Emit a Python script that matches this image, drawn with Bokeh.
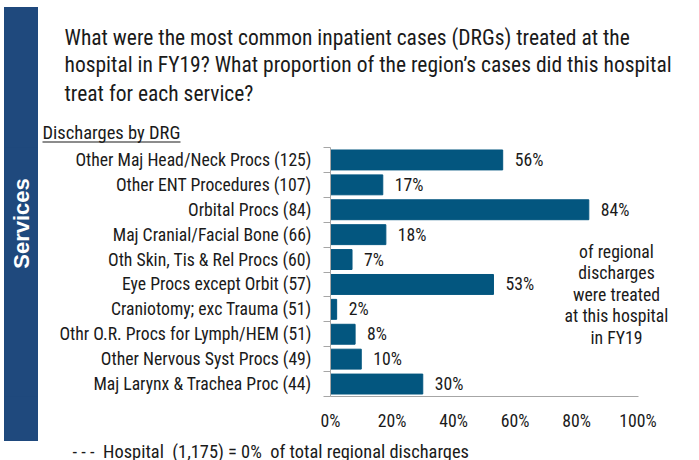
from bokeh.plotting import figure
from bokeh.layouts import column, row
from bokeh.models import Label, BoxAnnotation, FixedTicker, Range1d
from bokeh.embed import file_html
from bokeh.resources import INLINE
from bokeh.core.properties import value

categories = ["Other Maj Head/Neck Procs", "Other ENT Procedures", "Orbital Procs",
              "Maj Cranial/Facial Bone", "Oth Skin, Tis & Rel Procs", "Eye Procs except Orbit",
              "Craniotomy; exc Trauma", "Othr O.R. Procs for Lymph/HEM",
              "Other Nervous Syst Procs", "Maj Larynx & Trachea Proc"]
discharges = [125, 107, 84, 66, 60, 57, 51, 51, 49, 44]
regional_share = [0.56, 0.17, 0.84, 0.18, 0.07, 0.53, 0.02, 0.08, 0.10, 0.30]
x_ticks = [0, 0.2, 0.4, 0.6, 0.8, 1.0]
x_tick_labels = ["0%", "20%", "40%", "60%", "80%", "100%"]
title_lines = ["What were the most common inpatient cases (DRGs) treated at the",
               "hospital in FY19? What proportion of the region\u2019s cases did this hospital",
               "treat for each service?"]
note_lines = ["of regional", "discharges", "were treated", "at this hospital", "in FY19"]
subtitle = "Discharges by DRG"
side_label = "Services"
footnote = "- - - \u00a0Hospital \u00a0(1,175) = 0% \u00a0of total regional discharges"

FONT = "'Liberation Sans Narrow', 'Arial Narrow', 'Roboto Condensed', 'DejaVu Sans Condensed', 'Liberation Sans'"
BAR = "#03567F"
NAVY = "#1f497d"
GRAY = "#a6a6a6"
TXT = "#1a1a1a"
FS = "17.7px"


def panel(w, h, fill="white"):
    f = figure(width=w, height=h, x_range=Range1d(0, 1), y_range=Range1d(0, 1),
               output_backend="svg", toolbar_location=None,
               x_axis_location=None, y_axis_location=None,
               min_border=0, min_border_left=0, min_border_right=0,
               min_border_top=0, min_border_bottom=0)
    f.outline_line_color = None
    f.xgrid.visible = False
    f.ygrid.visible = False
    f.background_fill_color = fill
    f.border_fill_color = fill
    f.styles = {"background-color": fill}
    return f


def box(f, h, l, r, t, b, color):
    # l, r, t, b in pixels from the panel's top-left corner
    f.add_layout(BoxAnnotation(left=l, right=r, top=h - t, bottom=h - b,
                               left_units="screen", right_units="screen",
                               top_units="screen", bottom_units="screen",
                               fill_color=color, fill_alpha=1, line_color=None))


def label(f, h, x, y, text, **kw):
    opts = dict(text_font=FONT, text_font_size=FS, text_color=TXT,
                text_align="left", text_baseline="middle")
    opts.update(kw)
    f.add_layout(Label(x=x, y=h - y, x_units="screen", y_units="screen",
                       text=text, **opts))


# ---- top gray rule (page y 0..7)
top = panel(699, 7)
box(top, 7, 3, 699, 3, 7, GRAY)

# ---- upper part: white gap, navy side bar, title block (page y 7..147)
TH = 140
gap_t = panel(4, TH)
side_t = panel(34, TH, fill=NAVY)      # page x 4..38
gap_t2 = panel(1, TH)
head = panel(660, TH)                  # page x 39..699
for i, ym in enumerate([36.5, 64, 92.5]):
    label(head, TH, 25, ym - 7, title_lines[i], text_font_size="21.5px")
label(head, TH, 3, 132.5 - 7, subtitle, text_font_size="18.5px")
box(head, TH, 3, 141, 134, 135, TXT)

# ---- lower part: white gap, navy side bar, chart (page y 147..441)
CH = 294
BB = 45          # chart bottom border -> frame bottom at page y 396
gap_m = panel(4, CH)
side_m = panel(34, CH, fill=NAVY)      # page x 4..38
side_m.add_layout(Label(x=17, y=(147 + CH - BB) - 223, x_units="screen", y_units="screen",
                        text=side_label, angle=90, angle_units="deg",
                        text_align="center", text_baseline="middle", text_color="white",
                        text_font="Liberation Sans", text_font_style="bold",
                        text_font_size="22px"))

n = len(categories)
ypos = [i + 1 for i in range(n)]
p = figure(width=661, height=CH, x_range=Range1d(0, 1.2), y_range=Range1d(n + 0.5, 0.5),
           output_backend="svg", toolbar_location=None,
           min_border_left=292, min_border_right=0,
           min_border_top=0, min_border_bottom=BB)
p.outline_line_color = None
p.xgrid.visible = False
p.ygrid.visible = False
p.background_fill_color = "white"
p.border_fill_color = "white"

yax = p.yaxis[0]
yax.ticker = FixedTicker(ticks=ypos, minor_ticks=[i + 0.5 for i in range(n + 1)])
yax.major_label_overrides = {y: f"{c} ({d})" for y, c, d in zip(ypos, categories, discharges)}
yax.major_tick_out = 0
yax.major_tick_in = 0
yax.minor_tick_out = 7
yax.minor_tick_in = 0
yax.minor_tick_line_color = GRAY
yax.axis_line_color = GRAY
yax.major_label_standoff = 12
yax.major_label_text_font = FONT
yax.major_label_text_font_size = FS
yax.major_label_text_color = TXT

xax = p.xaxis[0]
xax.ticker = FixedTicker(ticks=x_ticks)
xax.bounds = (0, 1)
xax.major_label_overrides = {t: l for t, l in zip(x_ticks, x_tick_labels)}
xax.major_tick_out = 0
xax.major_tick_in = 0
xax.minor_tick_out = 0
xax.minor_tick_in = 0
xax.axis_line_color = GRAY
xax.major_label_standoff = 14
xax.major_label_text_font = FONT
xax.major_label_text_font_size = FS
xax.major_label_text_color = TXT

p.hbar(y=ypos, left=0, right=regional_share, height=0.8, color=BAR)
p.text(x=regional_share, y=ypos, text=[f"{round(v * 100)}%" for v in regional_share],
       x_offset=12, text_baseline="middle", text_align="left",
       text_font=value(FONT), text_font_size=FS, text_color=TXT)

# note on the right, in pixels relative to the frame (frame left = page x 330, bottom = page y 396)
for i, line in enumerate(note_lines):
    p.add_layout(Label(x=616 - 330, y=396 - (251 + 21.5 * i), x_units="screen", y_units="screen",
                       text=line, text_align="center", text_baseline="middle",
                       text_font=FONT, text_font_size=FS, text_color=TXT))

# ---- footnote (page y 441..460)
FH = 19
foot = panel(699, FH)
label(foot, FH, 72, 451 - 441, footnote, text_font_size="18.4px")

layout = column(top,
                row(gap_t, side_t, gap_t2, head),
                row(gap_m, side_m, p),
                foot)
open("out.html", "w").write(file_html(layout, INLINE))
